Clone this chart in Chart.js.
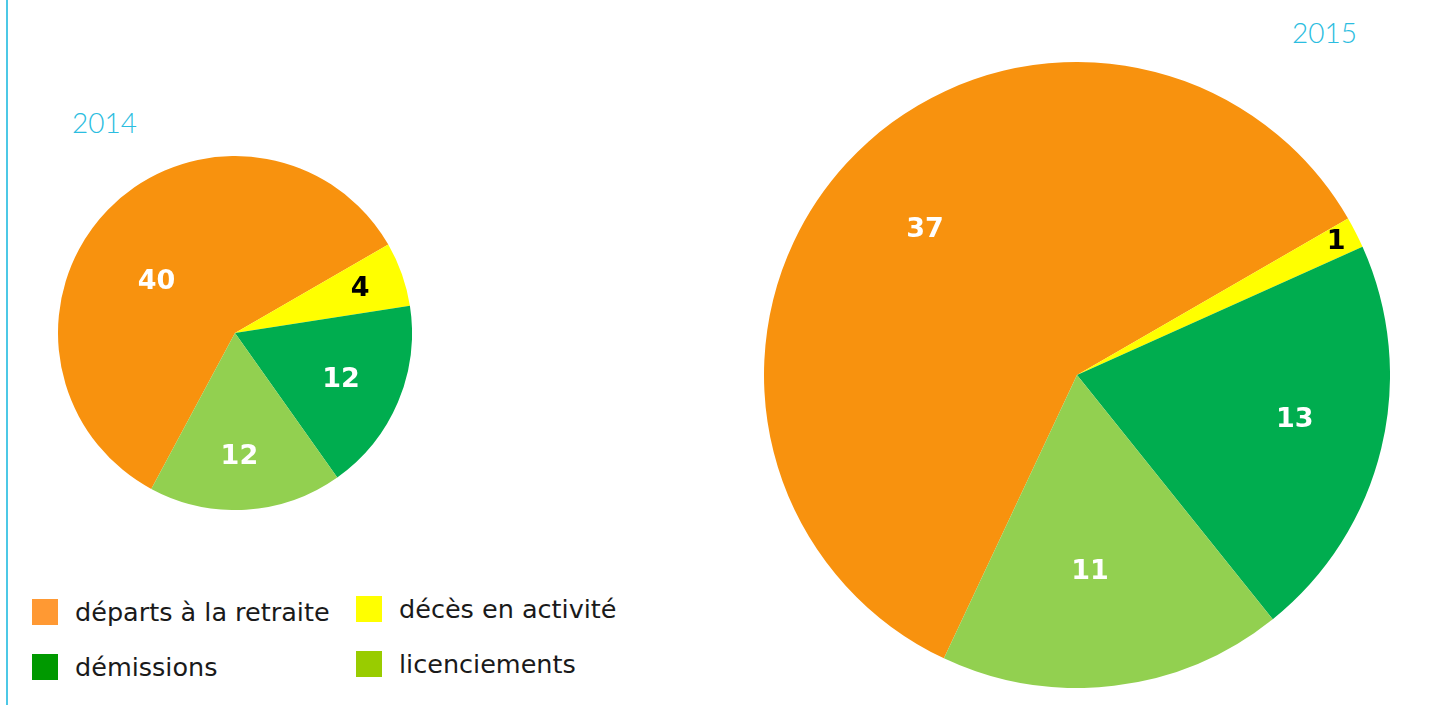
<!DOCTYPE html>
<html lang="fr">
<head>
<meta charset="utf-8">
<title>Départs 2014 / 2015</title>
<script src="https://cdn.jsdelivr.net/npm/chart.js@4.4.1/dist/chart.umd.min.js"></script>
<style>
  html, body { margin: 0; padding: 0; background: #fff; }
  body { width: 1441px; height: 705px; position: relative; overflow: hidden; font-family: 'DejaVu Sans', sans-serif; }
  .rule { position: absolute; left: 6px; top: 0; width: 2px; height: 705px; background: #4cc8e6; }
  .year { position: absolute; color: #2bbde0; font-family: 'Lato', sans-serif; font-size: 28px; font-weight: 300; line-height: 1; }
  .pie { position: absolute; }
  .legend { position: absolute; left: 0; top: 0; }
  .legend .item { position: absolute; display: flex; align-items: center; }
  .legend .box { width: 26px; height: 26px; margin-right: 17px; }
  .legend .txt { font-size: 25.5px; color: #1a1a1a; white-space: nowrap; }
</style>
</head>
<body>
<div class="rule"></div>
<div class="year" style="left:72px;top:108px;">2014</div>
<div class="year" style="left:1292px;top:18px;">2015</div>
<div class="pie" style="left:58px;top:156px;width:354px;height:354px;"><canvas id="pie2014"></canvas></div>
<div class="pie" style="left:764px;top:62px;width:626px;height:626px;"><canvas id="pie2015"></canvas></div>
<div class="legend" id="legend"></div>

<script>
// ---- data ----
const categories = ['départs à la retraite', 'décès en activité', 'démissions', 'licenciements'];
const values2014 = [40, 4, 12, 12];
const values2015 = [37, 1, 13, 11];

// ---- colours ----
const sliceColors = ['#f8920e', '#ffff00', '#00ad4f', '#92d050'];
const legendColors = ['#ff9933', '#ffff00', '#009900', '#99cc00'];
const labelColors = ['#ffffff', '#000000', '#ffffff', '#ffffff'];

// label placement: fraction of radius, angle nudge (deg)
const labelRadius2014 = [0.53, 0.75, 0.655, 0.70];
const labelNudge2014 = [-11, 0, 1, 1.5];
const labelRadius2015 = [0.67, 0.93, 0.71, 0.63];
const labelNudge2015 = [1, 0, -2, 3];

// the yellow slice begins at ~60deg clockwise from the top in both pies
const yellowStart = 60;

const sliceLabels = {
  id: 'sliceLabels',
  afterDatasetsDraw(chart, args, opts) {
    const ctx = chart.ctx;
    const meta = chart.getDatasetMeta(0);
    ctx.save();
    ctx.font = "bold 27px 'DejaVu Sans', sans-serif";
    ctx.textAlign = 'center';
    ctx.textBaseline = 'middle';
    meta.data.forEach((arc, i) => {
      const p = arc.getProps(['x', 'y', 'startAngle', 'endAngle', 'outerRadius'], true);
      const mid = (p.startAngle + p.endAngle) / 2 + opts.nudge[i] * Math.PI / 180;
      const r = p.outerRadius * opts.radius[i];
      ctx.fillStyle = labelColors[i];
      ctx.fillText(chart.data.datasets[0].data[i], p.x + Math.cos(mid) * r, p.y + Math.sin(mid) * r);
    });
    ctx.restore();
  }
};

function makePie(id, values, radius, nudge) {
  const total = values.reduce((a, b) => a + b, 0);
  const rotation = yellowStart - values[0] / total * 360;
  return new Chart(document.getElementById(id), {
    type: 'pie',
    data: {
      labels: categories,
      datasets: [{
        data: values,
        backgroundColor: sliceColors,
        borderWidth: 0,
        hoverOffset: 0
      }]
    },
    options: {
      responsive: true,
      maintainAspectRatio: false,
      animation: false,
      rotation,
      layout: { padding: 0 },
      events: [],
      plugins: {
        legend: { display: false },
        tooltip: { enabled: false },
        sliceLabels: { radius, nudge }
      }
    },
    plugins: [sliceLabels]
  });
}

makePie('pie2014', values2014, labelRadius2014, labelNudge2014);
makePie('pie2015', values2015, labelRadius2015, labelNudge2015);

// ---- legend (html) ----
const legendSpots = [[32, 597], [356, 594], [32, 652], [356, 649]];
const legend = document.getElementById('legend');
categories.forEach((name, i) => {
  const item = document.createElement('div');
  item.className = 'item';
  item.style.left = legendSpots[i][0] + 'px';
  item.style.top = legendSpots[i][1] + 'px';
  item.innerHTML = '<div class="box" style="background:' + legendColors[i] + '"></div><span class="txt">' + name + '</span>';
  legend.appendChild(item);
});
</script>
</body>
</html>
